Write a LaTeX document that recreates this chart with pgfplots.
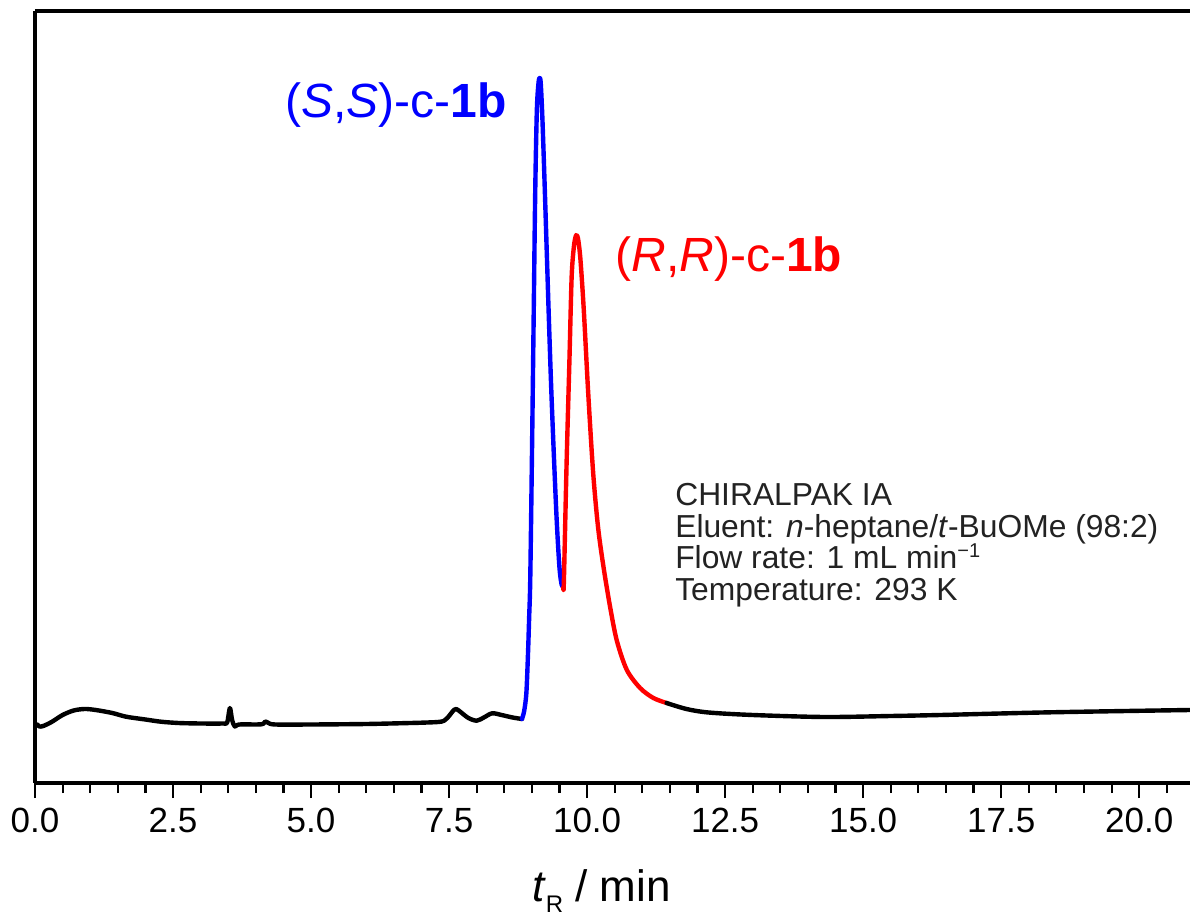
\documentclass[border=0pt]{standalone}
\usepackage{fontspec}
\setmainfont{Liberation Sans}
\usepackage{pgfplots}
\pgfplotsset{compat=1.18}
\definecolor{pblue}{RGB}{0,0,255}
\definecolor{pred}{RGB}{255,0,0}
\definecolor{txtgray}{RGB}{34,34,34}
\begin{document}
\begin{tikzpicture}
\begin{axis}[name=ax, scale only axis, width=577.5pt, height=386pt,
  xmin=0, xmax=20.92, ymin=0, ymax=772,
  axis x line*=box, axis y line*=left,
  ytick=\empty,
  xtick={0,2.5,5,7.5,10,12.5,15,17.5,20}, minor x tick num=4,
  extra x ticks={20.5}, extra x tick labels={},
  extra x tick style={major tick length=5pt},
  xtick pos=bottom, xtick align=outside,
  major tick length=7.5pt, minor tick length=5pt,
  every tick/.style={black, line width=1.1pt},
  axis line style={line width=1.6pt, black},
  xticklabel style={/pgf/number format/.cd, fixed, fixed zerofill, precision=1, assume math mode=true},
  ticklabel style={font=\fontsize{17.5}{21}\selectfont, yshift=-1.5pt},
  xlabel={\textit{t}\raisebox{-5.5pt}{\fontsize{12}{12}\selectfont R} / min},
  xlabel style={font=\fontsize{22}{26}\selectfont, xshift=-5.5pt, yshift=-1.5pt, inner sep=1pt},
  clip=true,
  every axis plot/.append style={line width=2.2pt, line join=round, line cap=round},
]
\addplot[black, smooth] coordinates {
(0.00,56) (0.04,58.5) (0.08,56.5) (0.15,57) (0.3,61) (0.5,68) (0.7,72.5) (0.9,74) (1.1,73)
(1.4,70) (1.65,66.3) (2.0,63.5) (2.28,61.3) (2.6,60) (3.0,59.5) (3.4,59.5) (3.48,60.5)
(3.53,75) (3.57,63) (3.62,56.5) (3.7,58.5) (4.1,58.7) (4.17,61.5) (4.23,60) (4.35,58.5)
(5.0,58.5) (6.0,59) (6.8,60) (7.0,60.3) (7.3,61) (7.41,62.3) (7.5,67) (7.57,72) (7.63,74)
(7.72,70.5) (7.85,65) (8.0,62.3) (8.13,65.5) (8.28,69.7) (8.45,68) (8.65,65.5) (8.82,64)
};
\addplot[pblue, smooth] coordinates {
(8.82,64) (8.86,72) (8.90,90) (8.93,130) (8.95,165) (8.97,203) (9.00,323) (9.03,456)
(9.06,590) (9.09,673) (9.12,700) (9.14,705) (9.16,700) (9.19,665) (9.23,600) (9.27,530)
(9.31,460) (9.35,395) (9.40,325) (9.45,262) (9.50,215) (9.54,198) (9.57,196)
};
\addplot[pred, smooth] coordinates {
(9.57,196) (9.58,203) (9.63,323) (9.68,423) (9.72,506) (9.76,536) (9.79,546) (9.81,548)
(9.84,543) (9.88,523) (9.94,473) (10.02,390) (10.11,310) (10.20,255) (10.30,215)
(10.42,175) (10.54,142) (10.72,113) (10.96,95) (11.2,85) (11.44,80)
};
\addplot[black, smooth] coordinates {
(11.44,80) (11.8,74) (12.2,70.5) (13.0,68) (14.3,66) (15.5,67) (16.4,68) (18.4,70.7) (20.92,73)
};
\node[anchor=base west, inner sep=0pt, text=pblue, font=\fontsize{24}{28}\selectfont]
  at (axis cs:4.53,665) {(\textit{S},\textit{S})-c-\textbf{1b}};
\node[anchor=base west, inner sep=0pt, text=pred, font=\fontsize{24}{28}\selectfont]
  at (axis cs:10.51,511) {(\textit{R},\textit{R})-c-\textbf{1b}};
\node[anchor=base west, inner sep=0pt, text=txtgray, font=\fontsize{15.9}{18}\selectfont]
  at (axis cs:11.59,278) {CHIRALPAK IA};
\node[anchor=base west, inner sep=0pt, text=txtgray, font=\fontsize{15.9}{18}\selectfont]
  at (axis cs:11.59,245) {Eluent: \textit{n}-heptane/\textit{t}-BuOMe (98:2)};
\node[anchor=base west, inner sep=0pt, text=txtgray, font=\fontsize{15.9}{18}\selectfont]
  at (axis cs:11.59,214.5) {Flow rate: 1 mL min\raisebox{5.5pt}{\fontsize{10}{10}\selectfont −1}};
\node[anchor=base west, inner sep=0pt, text=txtgray, font=\fontsize{15.9}{18}\selectfont]
  at (axis cs:11.59,183) {Temperature: 293 K};
\end{axis}
\pgfresetboundingbox
\path ([shift={(-17.5pt,-69.5pt)}]ax.south west) rectangle ([shift={(0pt,5.5pt)}]ax.north east);
\end{tikzpicture}
\end{document}
